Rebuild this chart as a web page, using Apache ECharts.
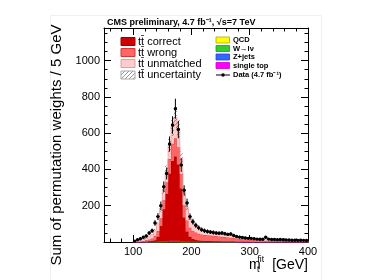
<!DOCTYPE html>
<html><head><meta charset="utf-8">
<script src="https://cdn.jsdelivr.net/npm/echarts@6/dist/echarts.min.js"></script>
<style>html,body{margin:0;padding:0;background:#fff}#c{width:374px;height:280px}</style>
</head><body><div id="c"></div>
<script>
// ---- data (bins of 5 GeV, low edges) ----
const binStart = [100,105,110,115,120,125,130,135,140,145,
  150,155,160,165,170,175,180,185,190,195,
  200,205,210,215,220,225,230,235,240,245,
  250,255,260,265,270,275,280,285,290,295,
  300,305,310,315,320,325,330,335,340,345,
  350,355,360,365,370,375,380,385,390,395];
const dataVals = [5,12,18,26,33,50,62,105,140,200,
  305,378,540,645,735,620,424,285,215,140,
  112,92,78,68,62,58,55,52,50,48,
  50,46,42,44,36,30,27,25,22,20,
  20,18,16,15,15,26,16,14,14,13,
  14,12,11,11,10,10,9,10,9,8];
const dataErr = [4,6,7,8,9,11,12,16,19,23,
  29,33,42,48,55,48,37,28,24,18,
  16,14,13,12,12,11,11,11,10,10,
  10,10,9,9,9,8,8,7,7,7,
  7,6,6,6,6,8,6,6,6,6,
  6,5,5,5,5,5,5,5,5,5];
const ttCorrect = [0,0,0,1,1,2,3,8,25,85,
  175,260,370,440,465,420,290,130,55,25,
  14,9,6,5,4,3,3,2,2,2,
  1,1,1,1,1,1,1,1,1,1,
  0,0,0,0,0,0,0,0,0,0,
  0,0,0,0,0,0,0,0,0,0];
const ttWrong = [1,2,3,5,7,10,14,24,32,42,
  50,65,80,95,100,95,80,68,60,50,
  45,40,37,35,33,32,31,30,29,27,
  26,24,22,21,19,17,16,14,13,12,
  11,10,9,9,8,7,7,6,6,5,
  5,5,4,4,4,3,3,3,3,3];
const ttUnmatched = [2,4,6,8,10,18,22,32,40,48,
  55,62,75,95,115,105,85,70,65,52,
  45,38,32,28,25,23,21,19,17,15,
  14,13,12,12,11,10,10,9,9,8,
  8,7,7,7,6,6,6,5,5,5,
  5,4,4,4,4,4,3,3,3,3];
const singleTop = [0,0,0,0,1,1,1,1,2,2,
  3,3,4,4,4,4,3,3,2,2,
  2,2,1,1,1,1,1,1,1,1,
  1,1,1,1,1,1,0,0,0,0,
  0,0,0,0,0,0,0,0,0,0,
  0,0,0,0,0,0,0,0,0,0];
const wJets = [0,0,0,0,0,1,1,1,1,1,
  1,1,2,2,2,2,2,1,1,1,
  1,1,1,1,1,1,1,1,1,1,
  1,1,1,1,1,0,0,0,0,0,
  0,0,0,0,0,0,0,0,0,0,
  0,0,0,0,0,0,0,0,0,0];
const zJets = [0,0,0,0,0,0,0,0,0.5,0.5,
  0.5,0.5,0.5,0.5,0.5,0.5,0.5,0.5,0.5,0.5,
  0,0,0,0,0,0,0,0,0,0,
  0,0,0,0,0,0,0,0,0,0,
  0,0,0,0,0,0,0,0,0,0,
  0,0,0,0,0,0,0,0,0,0];
const qcd = [0,0,0,0,0,0,0,0,0,0,
  0.5,0.5,0.5,0.5,0.5,0.5,0,0,0,0,
  0,0,0,0,0,0,0,0,0,0,
  0,0,0,0,0,0,0,0,0,0,
  0,0,0,0,0,0,0,0,0,0,
  0,0,0,0,0,0,0,0,0,0];
const ttUnc = [0.5,1,1,1,2,3,3,5,7,12,
  20,30,42,52,58,52,38,22,15,10,
  8,7,6,5,5,5,4,4,4,4,
  4,3,3,3,3,3,2,2,2,2,
  2,2,2,2,1,1,1,1,1,1,
  1,1,1,1,1,1,1,1,1,1];
const BIN_WIDTH = 5;
const xMajorTicks = [100,200,300,400];
const xMinorTicks = [60,80,120,140,160,180,220,240,260,280,320,340,360,380];
const yMajorTicks = [0,200,400,600,800,1000];
const yLabelTicks = [200,400,600,800,1000];
const yMinorTicks = [50,100,150,250,300,350,450,500,550,650,700,750,850,900,950,1050,1100,1150];

const FONT = '"Liberation Sans", Arial, Helvetica, sans-serif';

// hatch pattern
const hatch = document.createElement('canvas'); hatch.width = 4; hatch.height = 4;
const hc = hatch.getContext('2d');
hc.strokeStyle = 'rgba(110,110,110,0.9)'; hc.lineWidth = 0.8;
hc.beginPath(); hc.moveTo(0,4); hc.lineTo(4,0); hc.stroke();
const hatchFill = {image: hatch, repeat: 'repeat'};

function stepBandSeries(rows, fill, stroke, lw) {
  return {
    type: 'custom', xAxisIndex: 0, yAxisIndex: 0, silent: true,
    data: rows, encode: {x: 0, y: 2},
    renderItem: function (params, api) {
      if (params.dataIndex !== 0) return null;
      const up = [], lo = [];
      rows.forEach(r => {
        up.push(api.coord([r[0], r[2]]), api.coord([r[0] + BIN_WIDTH, r[2]]));
        lo.push(api.coord([r[0], r[1]]), api.coord([r[0] + BIN_WIDTH, r[1]]));
      });
      const poly = up.concat(lo.slice().reverse());
      const children = [{type: 'polygon', shape: {points: poly}, style: {fill: fill, stroke: null}}];
      if (stroke) {
        const outline = [lo[0]].concat(up).concat([lo[lo.length - 1]]);
        children.push({type: 'polyline', shape: {points: outline}, style: {fill: null, stroke: stroke, lineWidth: lw || 0.8}});
      }
      return {type: 'group', children: children};
    }
  };
}

const layers = [
  {vals: qcd, fill: '#ffff00', stroke: '#cccc00'},
  {vals: wJets, fill: '#33cc33', stroke: '#229922'},
  {vals: zJets, fill: '#3366ff', stroke: '#2244cc'},
  {vals: singleTop, fill: '#ff00ff', stroke: '#cc00cc'},
  {vals: ttCorrect, fill: '#cc0000', stroke: '#990000'},
  {vals: ttWrong, fill: '#ff6666', stroke: '#dd3333'},
  {vals: ttUnmatched, fill: '#ffcccc', stroke: '#f09a9a'}
];
const series = [];
let base = binStart.map(() => 0);
layers.forEach(L => {
  const top = base.map((b, i) => b + L.vals[i]);
  series.push(stepBandSeries(binStart.map((x, i) => [x, base[i], top[i]]), L.fill, L.stroke, 0.8));
  base = top;
});
const total = base;
series.push(stepBandSeries(binStart.map((x, i) => [x, Math.max(0, total[i] - ttUnc[i]), total[i] + ttUnc[i]]), hatchFill, null));

series.push({
  type: 'custom', xAxisIndex: 0, yAxisIndex: 0, silent: true,
  data: binStart.map((x, i) => [x, dataVals[i], dataErr[i]]),
  encode: {x: 0, y: 1},
  renderItem: function (params, api) {
    const x = api.value(0), v = api.value(1), e = api.value(2);
    const c = api.coord([x + BIN_WIDTH / 2, v]);
    const l = api.coord([x, v]), r = api.coord([x + BIN_WIDTH, v]);
    const u = api.coord([x + BIN_WIDTH / 2, v + e]), d = api.coord([x + BIN_WIDTH / 2, Math.max(0, v - e)]);
    return {type: 'group', children: [
      {type: 'line', shape: {x1: l[0], y1: l[1], x2: r[0], y2: r[1]}, style: {stroke: '#000', lineWidth: 1}},
      {type: 'line', shape: {x1: u[0], y1: u[1], x2: d[0], y2: d[1]}, style: {stroke: '#000', lineWidth: 1}},
      {type: 'circle', shape: {cx: c[0], cy: c[1], r: 1.7}, style: {fill: '#000'}}
    ]};
  }
});

function xAx(pos, vals, len, labels, line) {
  return {type: 'value', min: 50, max: 400, position: pos,
    axisLine: {show: line, onZero: false, lineStyle: {color: '#000', width: 1}},
    axisTick: {show: true, inside: true, length: len, customValues: vals, lineStyle: {color: '#000', width: 1}},
    axisLabel: labels ? {show: true, customValues: labels, formatter: v => String(v), color: '#000', fontSize: 11, fontFamily: FONT, margin: 4} : {show: false},
    splitLine: {show: false}};
}
function yAx(pos, vals, len, labels, line) {
  return {type: 'value', min: 0, max: 1180, position: pos,
    axisLine: {show: line, onZero: false, lineStyle: {color: '#000', width: 1}},
    axisTick: {show: true, inside: true, length: len, customValues: vals, lineStyle: {color: '#000', width: 1}},
    axisLabel: labels ? {show: true, customValues: labels, formatter: v => String(v), color: '#000', fontSize: 11, fontFamily: FONT, margin: 4} : {show: false},
    splitLine: {show: false}};
}

const legendLeft = [
  {label: 'tt\u0304 correct', fill: '#cc0000', stroke: '#990000'},
  {label: 'tt\u0304 wrong', fill: '#ff6666', stroke: '#dd3333'},
  {label: 'tt\u0304 unmatched', fill: '#ffcccc', stroke: '#e0a0a0'},
  {label: 'tt\u0304 uncertainty', fill: hatchFill, stroke: '#aaaaaa'}
];
const legendRight = [
  {label: 'QCD', fill: '#ffff00', stroke: '#aaaa00'},
  {label: 'W\u2192l\u03bd', fill: '#33cc33', stroke: '#229922'},
  {label: 'Z+jets', fill: '#3366ff', stroke: '#2244cc'},
  {label: 'single top', fill: '#ff00ff', stroke: '#cc00cc'}
];
function txt(x, y, text, font, align) {
  return {type: 'text', x: x, y: y, style: {text: text, font: font, fill: '#000', align: align || 'left', verticalAlign: 'middle'}};
}
const graphics = [
  {type: 'rect', shape: {x: 50.5, y: 15.5, width: 271, height: 280}, style: {fill: null, stroke: '#efefef', lineWidth: 1}, silent: true, z: -10},
  txt(107, 22.5, 'CMS preliminary, 4.7 fb\u207b\u00b9, \u221as=7 TeV', 'bold 9px ' + FONT),
  {type: 'text', x: 57, y: 145, rotation: Math.PI / 2, style: {text: 'Sum of permutation weights / 5 GeV', font: '15px ' + FONT, fill: '#000', align: 'center', verticalAlign: 'middle'}},
  txt(249, 265, 'm', '14px ' + FONT),
  txt(257.5, 259.5, 'fit', '8.5px ' + FONT),
  txt(257, 270, 't', '8.5px ' + FONT),
  txt(308, 265, '[GeV]', '14px ' + FONT, 'right')
];
const leftRows = [41.5, 52.5, 63.5, 75];
legendLeft.forEach((e, i) => {
  graphics.push({type: 'rect', shape: {x: 121, y: leftRows[i] - 4, width: 14, height: 8}, style: {fill: e.fill, stroke: e.stroke, lineWidth: 1}});
  graphics.push(txt(138, leftRows[i], e.label, '11px ' + FONT));
});
const rightRows = [40, 48.5, 57, 65.5];
legendRight.forEach((e, i) => {
  graphics.push({type: 'rect', shape: {x: 216, y: rightRows[i] - 3, width: 13.5, height: 6}, style: {fill: e.fill, stroke: e.stroke, lineWidth: 0.8}});
  graphics.push(txt(233, rightRows[i], e.label, 'bold 7.5px ' + FONT));
});
graphics.push({type: 'line', shape: {x1: 216, y1: 75, x2: 230, y2: 75}, style: {stroke: '#000', lineWidth: 1}});
graphics.push({type: 'circle', shape: {cx: 223, cy: 75, r: 1.7}, style: {fill: '#000'}});
graphics.push(txt(233, 75, 'Data (4.7 fb\u207b\u00b9)', 'bold 7.5px ' + FONT));

const chart = echarts.init(document.getElementById('c'), null, {renderer: 'canvas'});
chart.setOption({
  animation: false,
  backgroundColor: '#fff',
  grid: {left: 104, right: 66, top: 28, bottom: 38, containLabel: false},
  xAxis: [
    xAx('bottom', xMajorTicks, 7, xMajorTicks, true),
    xAx('bottom', xMinorTicks, 3.5, null, false),
    xAx('top', xMajorTicks, 7, null, true),
    xAx('top', xMinorTicks, 3.5, null, false)
  ],
  yAxis: [
    yAx('left', yMajorTicks, 7, yLabelTicks, true),
    yAx('left', yMinorTicks, 3.5, null, false),
    yAx('right', yMajorTicks, 7, null, true),
    yAx('right', yMinorTicks, 3.5, null, false)
  ],
  series: series,
  graphic: graphics
});
</script></body></html>
